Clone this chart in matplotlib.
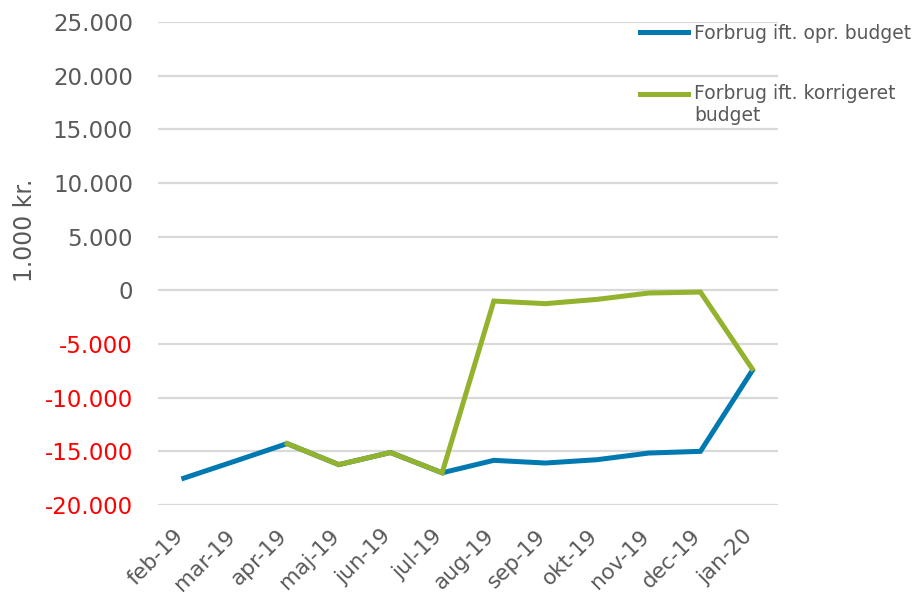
import numpy as np
import matplotlib.pyplot as plt
from matplotlib.legend_handler import HandlerLine2D
from matplotlib.transforms import ScaledTranslation

plt.rcParams['font.family'] = ['DejaVu Sans']

months = ["feb-19", "mar-19", "apr-19", "maj-19", "jun-19", "jul-19",
          "aug-19", "sep-19", "okt-19", "nov-19", "dec-19", "jan-20"]
forbrugOpr = [-17500, -15900, -14280, -16240, -15110, -17000,
              -15840, -16090, -15780, -15160, -15000, -7500]
forbrugKorr = [np.nan, np.nan, -14280, -16240, -15110, -17000,
               -1000, -1240, -840, -250, -160, -7300]
yTicks = list(range(-20000, 25001, 5000))

blue = '#0078B0'
green = '#93B22D'
gray = '#595959'


class FirstLineHandler(HandlerLine2D):
    # put the legend line next to the first line of a two-line label
    def create_artists(self, legend, orig_handle, xdescent, ydescent,
                       width, height, fontsize, trans):
        artists = super().create_artists(legend, orig_handle, xdescent, ydescent,
                                         width, height, fontsize, trans)
        for a in artists:
            a.set_ydata(np.asarray(a.get_ydata()) + 0.6 * fontsize)
        return artists


fig = plt.figure(figsize=(9.19, 5.96), dpi=100)
ax = fig.add_axes([0.1719, 0.1527, 0.6746, 0.8103])

x = np.arange(len(months))
lOpr, = ax.plot(x, forbrugOpr, color=blue, lw=3.6, solid_joinstyle='miter',
                label='Forbrug ift. opr. budget')
lKorr, = ax.plot(x, forbrugKorr, color=green, lw=3.6, solid_joinstyle='miter',
                 label='Forbrug ift. korrigeret\nbudget')

ax.set_ylim(-20000, 25000)
ax.set_xlim(-0.5, 11.5)
ax.set_yticks(yTicks, [f"{v:,.0f}".replace(',', '.') for v in yTicks])
for lbl, v in zip(ax.get_yticklabels(), yTicks):
    lbl.set_color('#FF0000' if v < 0 else gray)
ax.tick_params(axis='y', length=0, labelsize=16.5, pad=18)

ax.set_xticks(x, months, rotation=45, ha='right', va='center', rotation_mode='anchor')
ax.tick_params(axis='x', length=0, labelsize=15.5, labelcolor=gray, pad=0)
shift = ScaledTranslation(-3 / 100, -28 / 100, fig.dpi_scale_trans)
for lbl in ax.get_xticklabels():
    lbl.set_transform(lbl.get_transform() + shift)

ax.set_ylabel('1.000 kr.', fontsize=17, color=gray)
ax.yaxis.set_label_coords(-0.195, 0.569)

ax.grid(True, axis='y', color='#D9D9D9', lw=1.6)
ax.set_axisbelow(True)
for s in ax.spines.values():
    s.set_visible(False)

fig.legend(handles=[lOpr, lKorr], handler_map={lKorr: FirstLineHandler()},
           loc='upper left', bbox_to_anchor=(0.6964, 0.96), frameon=False,
           fontsize=13.5, labelcolor=gray, handlelength=2.56, handletextpad=0.32,
           labelspacing=2.17, borderaxespad=0, borderpad=0)

fig.savefig('out.png', dpi=100)
